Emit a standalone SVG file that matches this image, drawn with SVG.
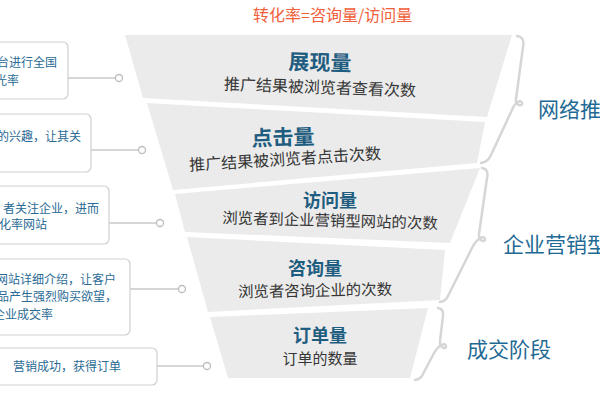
<svg xmlns="http://www.w3.org/2000/svg" width="600" height="400" viewBox="0 0 600 400">
<style>
.band{fill:#ebebeb}
.box{fill:#fff;stroke:#cfcfcf;stroke-width:1.2}
.conn{stroke:#c8c8c8;stroke-width:1.5;fill:none}
.dot{fill:#fff;stroke:#bdbdbd;stroke-width:1.3}
.brace{fill:none;stroke:#d6d6d6;stroke-width:2.5;stroke-linecap:round}
text{font-family:"Noto Sans CJK SC","Liberation Sans",sans-serif}
.head{fill:#1f5d80;font-weight:bold;text-anchor:middle}
.desc{fill:#363636;text-anchor:middle}
.btxt{fill:#2a6a94;font-size:12px}
.stage{fill:#1f6a94;font-size:21px}
</style>
<rect width="600" height="400" fill="#fff"/>
<text x="253" y="21" font-size="16" fill="#f0603a">转化率=咨询量/访问量</text>

<g id="band1">
<polygon class="band" points="125,35 512,35 487,117 143,98"/>
<text class="head" x="320" y="70" font-size="21" transform="rotate(1.5 320 62)">展现量</text>
<text class="desc" x="320" y="93" font-size="16" transform="rotate(2 320 87)">推广结果被浏览者查看次数</text>
</g>
<g id="band2">
<polygon class="band" points="147,103 485,122 477,163 173,190"/>
<text class="head" x="283" y="145" font-size="21" transform="rotate(-2 283 137)">点击量</text>
<text class="desc" x="285" y="165" font-size="16" transform="rotate(-3.5 285 159)">推广结果被浏览者点击次数</text>
</g>
<g id="band3">
<polygon class="band" points="175,194 480,168 450,243 185,232"/>
<text class="head" x="330" y="207" font-size="18">访问量</text>
<text class="desc" x="330" y="226" font-size="15.4" transform="rotate(1.5 330 220)">浏览者到企业营销型网站的次数</text>
</g>
<g id="band4">
<polygon class="band" points="187,237 445,250 440,300 208,312"/>
<text class="head" x="315" y="275" font-size="18">咨询量</text>
<text class="desc" x="315" y="296" font-size="15.4" transform="rotate(-1 315 290)">浏览者咨询企业的次数</text>
</g>
<g id="band5">
<polygon class="band" points="210,317 428,308 410,378 228,378"/>
<text class="head" x="320" y="342" font-size="18">订单量</text>
<text class="desc" x="320" y="364" font-size="15">订单的数量</text>
</g>

<g id="brace-groups">
<path class="brace" d="M517,36 Q525,37 523,47 L516,99 C515,106 523,107 522,103 C521,99 515,102 512,110 L491,155 Q488,162 481,163"/>
<path class="brace" d="M482,168 Q489,169 487,178 L479,234 C478,241 486,243 485,239 C484,235 477,238 472,248 L448,296 Q446,301 440,302"/>
<path class="brace" d="M438,308 Q444,309 443,316 L440,341 C439,348 447,350 446,346 C445,342 438,345 433,355 L423,374 Q421,379 415,380"/>
</g>
<g id="stage1"><text class="stage" x="538" y="117">网络推</text></g>
<g id="stage2"><text class="stage" x="503" y="252" font-size="20">企业营销型</text></g>
<g id="stage3"><text class="stage" x="467" y="357">成交阶段</text></g>

<g id="connectors">
<line class="conn" x1="68" y1="78" x2="115.5" y2="78"/>
<line class="conn" x1="91" y1="150" x2="138.5" y2="150"/>
<line class="conn" x1="109" y1="223" x2="156.5" y2="223"/>
<line class="conn" x1="130" y1="289" x2="178.5" y2="289"/>
<line class="conn" x1="157" y1="366" x2="203.5" y2="366"/>
<circle class="dot" cx="119" cy="78" r="3.5"/>
<circle class="dot" cx="142" cy="150" r="3.5"/>
<circle class="dot" cx="160" cy="223" r="3.5"/>
<circle class="dot" cx="182" cy="289" r="3.5"/>
<circle class="dot" cx="207" cy="366" r="3.5"/>
</g>

<g id="box1">
<rect class="box" x="-10" y="42" width="78" height="57" rx="5"/>
<text class="btxt" x="57" y="67" text-anchor="end">台进行全国</text>
<text class="btxt" x="19" y="85" text-anchor="end">光率</text>
</g>
<g id="box2">
<rect class="box" x="-10" y="114" width="101" height="58" rx="5"/>
<text class="btxt" x="81" y="141" text-anchor="end">的兴趣，让其关</text>
</g>
<g id="box3">
<rect class="box" x="-10" y="186" width="119" height="58" rx="5"/>
<text class="btxt" x="99" y="213" text-anchor="end">者关注企业，进而</text>
<text class="btxt" x="47" y="229" text-anchor="end">化率网站</text>
</g>
<g id="box4">
<rect class="box" x="-10" y="259" width="140" height="76" rx="5"/>
<text class="btxt" x="116" y="284" text-anchor="end">网站详细介绍，让客户</text>
<text class="btxt" x="117" y="301" text-anchor="end">品产生强烈购买欲望，</text>
<text class="btxt" x="53" y="319" text-anchor="end">企业成交率</text>
</g>
<g id="box5">
<rect class="box" x="-5" y="348" width="162" height="37" rx="5"/>
<text class="btxt" x="67" y="371" text-anchor="middle" fill="#2c5a78" font-size="12.5">营销成功，获得订单</text>
</g>
</svg>
